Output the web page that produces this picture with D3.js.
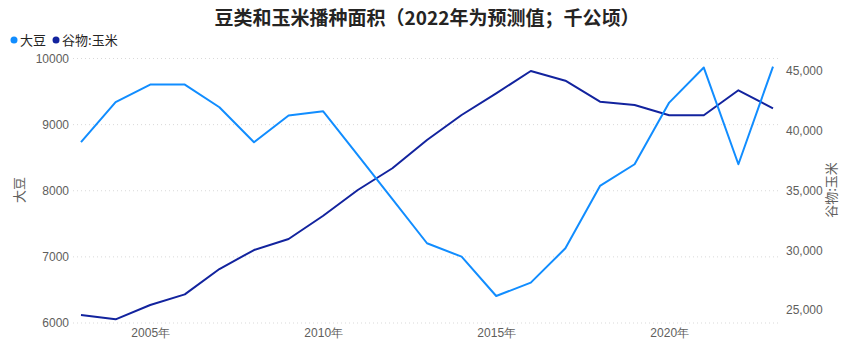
<!DOCTYPE html>
<html><head><meta charset="utf-8">
<script src="https://cdn.jsdelivr.net/npm/d3@7"></script>
<style>
html,body{margin:0;padding:0;background:#fff;}
svg{display:block;font-family:"Noto Sans","Noto Sans CJK SC",sans-serif;}
</style></head>
<body><svg id="c" width="855" height="356"></svg>
<script>
const title = "豆类和玉米播种面积（2022年为预测值；千公顷）";
const seriesNames = ["大豆", "谷物:玉米"];
const years = [2002,2003,2004,2005,2006,2007,2008,2009,2010,2011,2012,2013,2014,2015,2016,2017,2018,2019,2020,2021,2022];
const soybean = [8734,9339,9605,9605,9263,8734,9137,9202,8538,7873,7206,7003,6408,6610,7130,8073,8401,9333,9863,8401,9878];
const corn = [24582,24220,25418,26310,28430,30020,30940,32890,35040,36860,39230,41320,43134,45000,44188,42431,42155,41293,41293,43385,41880];
const xTicks = [2005,2010,2015,2020];
const leftTicks = [6000,7000,8000,9000,10000];
const rightTicks = [25000,30000,35000,40000,45000];
const colors = ["#118DFF", "#12239E"];

const svg = d3.select("#c");
const plotL = 73, plotR = 778, plotT = 58.5, plotB = 323;

// points sit at the end of each year
const x = d3.scaleLinear().domain([2003, 2023]).range([81, 773]);
const yL = d3.scaleLinear().domain([6000, 10000]).range([plotB, plotT]);
const yR = d3.scaleLinear().domain([23912, 46046]).range([plotB, plotT]);

// title
svg.append("text").attr("x", 427).attr("y", 25).attr("text-anchor", "middle")
  .attr("font-family", "'Noto Sans CJK SC',sans-serif").attr("font-weight", "bold")
  .attr("font-size", 19).attr("fill", "#252423").text(title);

// legend
let lx = 14;
seriesNames.forEach((n, i) => {
  svg.append("circle").attr("cx", lx).attr("cy", 40).attr("r", 3.5).attr("fill", colors[i]);
  const t = svg.append("text").attr("x", lx + 6).attr("y", 44.5).attr("font-size", 13)
    .attr("font-family", "'Noto Sans CJK SC',sans-serif").attr("fill", "#252423").text(n);
  lx += 6 + t.node().getComputedTextLength() + 10;
});

// gridlines
svg.append("g").selectAll("line").data(leftTicks).join("line")
  .attr("x1", plotL).attr("x2", plotR).attr("y1", d => yL(d)).attr("y2", d => yL(d))
  .attr("stroke", "#d9d9d9").attr("stroke-width", 1).attr("stroke-dasharray", "1,3");

// left axis
const gL = svg.append("g").attr("transform", `translate(${plotL - 4},0)`)
  .call(d3.axisLeft(yL).tickValues(leftTicks).tickSize(0).tickPadding(0).tickFormat(d3.format("d")));
gL.select(".domain").remove();
gL.selectAll("text").attr("font-size", 12).attr("fill", "#605E5C");

// right axis
const gR = svg.append("g").attr("transform", `translate(${plotR + 8},0)`)
  .call(d3.axisRight(yR).tickValues(rightTicks).tickSize(0).tickPadding(0).tickFormat(d3.format(",")));
gR.select(".domain").remove();
gR.selectAll("text").attr("font-size", 12).attr("fill", "#605E5C");

// x axis
const gX = svg.append("g").attr("transform", `translate(0,${plotB + 4})`)
  .call(d3.axisBottom(x).tickValues(xTicks).tickSize(0).tickPadding(0).tickFormat(d => d + "年"));
gX.select(".domain").remove();
gX.selectAll("text").attr("font-size", 12).attr("fill", "#605E5C").attr("dy", "0.85em");

// axis titles
svg.append("text").attr("transform", "translate(24,190) rotate(-90)").attr("text-anchor", "middle")
  .attr("font-size", 13).attr("font-family", "'Noto Sans CJK SC',sans-serif").attr("fill", "#605E5C").text(seriesNames[0]);
svg.append("text").attr("transform", "translate(836,190) rotate(-90)").attr("text-anchor", "middle")
  .attr("font-size", 13).attr("font-family", "'Noto Sans CJK SC',sans-serif").attr("fill", "#605E5C").text(seriesNames[1]);

// lines
const lineSoy = d3.line().x((d, i) => x(years[i] + 1)).y(d => yL(d));
const lineCorn = d3.line().x((d, i) => x(years[i] + 1)).y(d => yR(d));
svg.append("path").datum(corn).attr("d", lineCorn).attr("fill", "none")
  .attr("stroke", colors[1]).attr("stroke-width", 2).attr("stroke-linejoin", "round");
svg.append("path").datum(soybean).attr("d", lineSoy).attr("fill", "none")
  .attr("stroke", colors[0]).attr("stroke-width", 2).attr("stroke-linejoin", "round");
</script></body></html>
